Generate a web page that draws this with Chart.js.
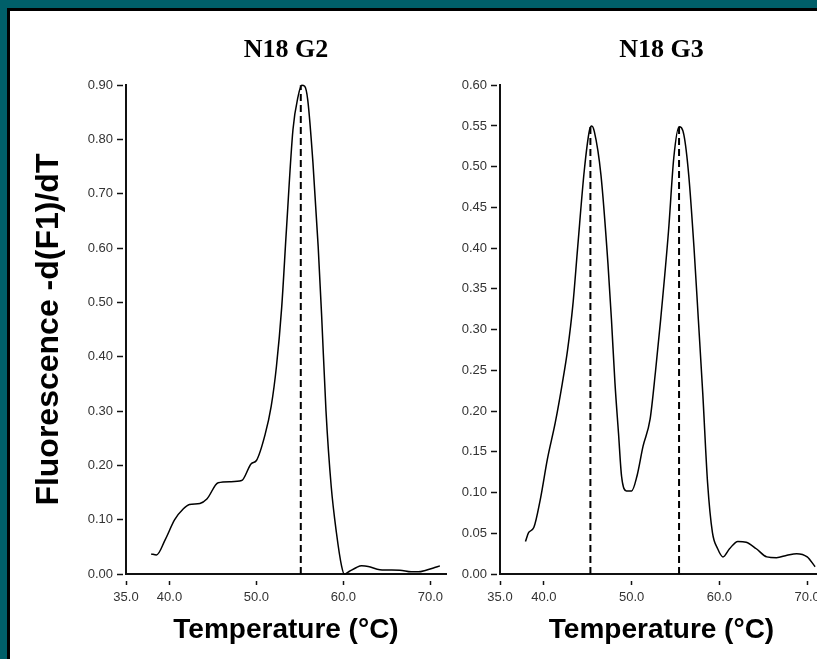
<!DOCTYPE html>
<html>
<head>
<meta charset="utf-8">
<script src="https://cdn.jsdelivr.net/npm/chart.js@4/dist/chart.umd.min.js"></script>
<style>
    html, body { margin: 0; padding: 0; }
    body { width: 817px; height: 659px; background: #005f69; overflow: hidden; position: relative; }
    .frame { position: absolute; left: 7px; top: 8px; right: 0; bottom: 0; background: #fff; border-left: 3px solid #000; border-top: 3px solid #000; }
    canvas { position: absolute; }
    #g2 { left: 10px; top: 10px; }
    #g3 { left: 450px; top: 10px; }
</style>
</head>
<body>
<div class="frame"></div>
<canvas id="g2" width="440" height="649"></canvas>
<canvas id="g3" width="377" height="649"></canvas>
<script>
// N18 G2 - melting curve
const g2Temps = [37.9, 38.5, 39.5, 40.6, 41.6, 42.3, 43.5, 44.3, 45.6, 47.0, 48.3, 49.4, 50.0, 51.0, 51.7, 52.3, 52.9,
    53.45, 54.2, 54.8, 55.2, 55.55, 55.9, 56.5, 57.1, 57.5, 58.0, 58.6, 59.2, 59.8, 60.1, 60.7, 61.5, 62.1, 62.85,
    64.2, 66.5, 67.8, 68.6, 69.5, 70.5, 71.1];
const g2Values = [0.037, 0.035, 0.063, 0.100, 0.120, 0.128, 0.130, 0.138, 0.168, 0.170, 0.172, 0.203, 0.209, 0.257, 0.309, 0.382, 0.490,
    0.634, 0.818, 0.880, 0.900, 0.898, 0.873, 0.757, 0.603, 0.475, 0.300, 0.161, 0.076, 0.014, 0.000, 0.005, 0.012, 0.015, 0.014,
    0.008, 0.007, 0.004, 0.004, 0.007, 0.012, 0.015];
const g2MeltTemps = [55.1];
const g2MeltPeaks = [0.90];
const g2YTicks = [0, 0.1, 0.2, 0.3, 0.4, 0.5, 0.6, 0.7, 0.8, 0.9];

// N18 G3 - melting curve
const g3Temps = [37.9, 38.27, 38.85, 39.6, 40.4, 41.3, 42.1, 42.7, 43.3, 43.85, 44.6, 45.2, 45.45, 45.75, 46.5, 47.3, 47.7,
    48.1, 48.5, 48.85, 49.4, 50.0, 50.6, 51.3, 52.1, 52.7, 53.3, 54.2, 54.8, 55.4, 55.95, 56.5, 57.1, 57.6, 58.1, 58.65,
    59.2, 59.8, 60.4, 61.15, 62.1, 63.05, 64.2, 65.4, 66.5, 67.7, 68.8, 70.0, 70.9];
const g3Values = [0.040, 0.051, 0.057, 0.092, 0.141, 0.186, 0.234, 0.275, 0.330, 0.401, 0.495, 0.545, 0.550, 0.543, 0.490, 0.381, 0.312,
    0.234, 0.173, 0.120, 0.102, 0.102, 0.120, 0.157, 0.190, 0.247, 0.312, 0.421, 0.511, 0.549, 0.539, 0.490, 0.401, 0.312, 0.222, 0.112,
    0.051, 0.031, 0.021, 0.031, 0.040, 0.039, 0.031, 0.021, 0.020, 0.023, 0.025, 0.021, 0.009];
const g3MeltTemps = [45.3, 55.4];
const g3MeltPeaks = [0.55, 0.549];
const g3YTicks = [0, 0.05, 0.1, 0.15, 0.2, 0.25, 0.3, 0.35, 0.4, 0.45, 0.5, 0.55, 0.6];

const xTicks = [35, 40, 50, 60, 70];
const xMin = 35, xMax = 71.8;

const sans = "'Liberation Sans', Arial, sans-serif";

function buildChart(id, title, temps, values, meltTemps, meltPeaks, yTicks, yMax, yWidth, showYTitle) {
    const datasets = [{
        data: temps.map((t, i) => ({ x: t, y: values[i] })),
        borderColor: '#000',
        borderWidth: 1.5,
        pointRadius: 0,
        cubicInterpolationMode: 'monotone',
        fill: false
    }];
    meltTemps.forEach((t, i) => {
        datasets.push({
            data: [{ x: t, y: 0 }, { x: t, y: meltPeaks[i] }],
            borderColor: '#000',
            borderWidth: 2,
            borderDash: [7, 4],
            pointRadius: 0,
            fill: false
        });
    });

    return new Chart(document.getElementById(id), {
        type: 'line',
        data: { datasets },
        options: {
            responsive: false,
            animation: false,
            devicePixelRatio: 1,
            clip: false,
            layout: { padding: { top: 0, right: 4, bottom: 0, left: 0 } },
            plugins: {
                legend: { display: false },
                tooltip: { enabled: false },
                title: {
                    display: true,
                    text: title,
                    fullSize: false,
                    color: '#000',
                    font: { family: "'Liberation Serif', 'Times New Roman', serif", size: 26, weight: 'bold', lineHeight: 1.2 },
                    padding: { top: 25, bottom: 19 }
                }
            },
            scales: {
                x: {
                    type: 'linear',
                    min: xMin,
                    max: xMax,
                    afterBuildTicks: s => { s.ticks = xTicks.map(v => ({ value: v })); },
                    afterFit: s => { s.height = 85; },
                    ticks: {
                        color: '#333',
                        font: { family: sans, size: 13 },
                        padding: 5,
                        maxRotation: 0,
                        autoSkip: false,
                        callback: v => v.toFixed(1)
                    },
                    grid: {
                        drawOnChartArea: false,
                        tickLength: 11,
                        tickColor: '#111',
                        tickWidth: 1.5,
                        tickBorderDash: [5, 6],
                        tickBorderDashOffset: 5
                    },
                    border: { color: '#111', width: 2 },
                    title: {
                        display: true,
                        text: 'Temperature (°C)',
                        color: '#000',
                        font: { family: sans, size: 28, weight: 'bold', lineHeight: 1.2 },
                        padding: { top: 0, bottom: 12 }
                    }
                },
                y: {
                    min: 0,
                    max: yMax,
                    afterBuildTicks: s => { s.ticks = yTicks.map(v => ({ value: v })); },
                    afterFit: s => { s.width = yWidth; },
                    ticks: {
                        color: '#333',
                        font: { family: sans, size: 13 },
                        padding: 4,
                        autoSkip: false,
                        callback: v => v.toFixed(2)
                    },
                    grid: {
                        drawOnChartArea: false,
                        tickLength: 9,
                        tickColor: '#111',
                        tickWidth: 1.5,
                        tickBorderDash: [6, 3]
                    },
                    border: { color: '#111', width: 2 },
                    title: {
                        display: showYTitle,
                        text: 'Fluorescence -d(F1)/dT',
                        color: '#000',
                        font: { family: sans, size: 32, weight: 'bold', lineHeight: 1.2 },
                        padding: { top: 20, bottom: 0 }
                    }
                }
            }
        }
    });
}

buildChart('g2', 'N18 G2', g2Temps, g2Values, g2MeltTemps, g2MeltPeaks, g2YTicks, 0.9, 116, true);
buildChart('g3', 'N18 G3', g3Temps, g3Values, g3MeltTemps, g3MeltPeaks, g3YTicks, 0.6, 50, false);
</script>
</body>
</html>
